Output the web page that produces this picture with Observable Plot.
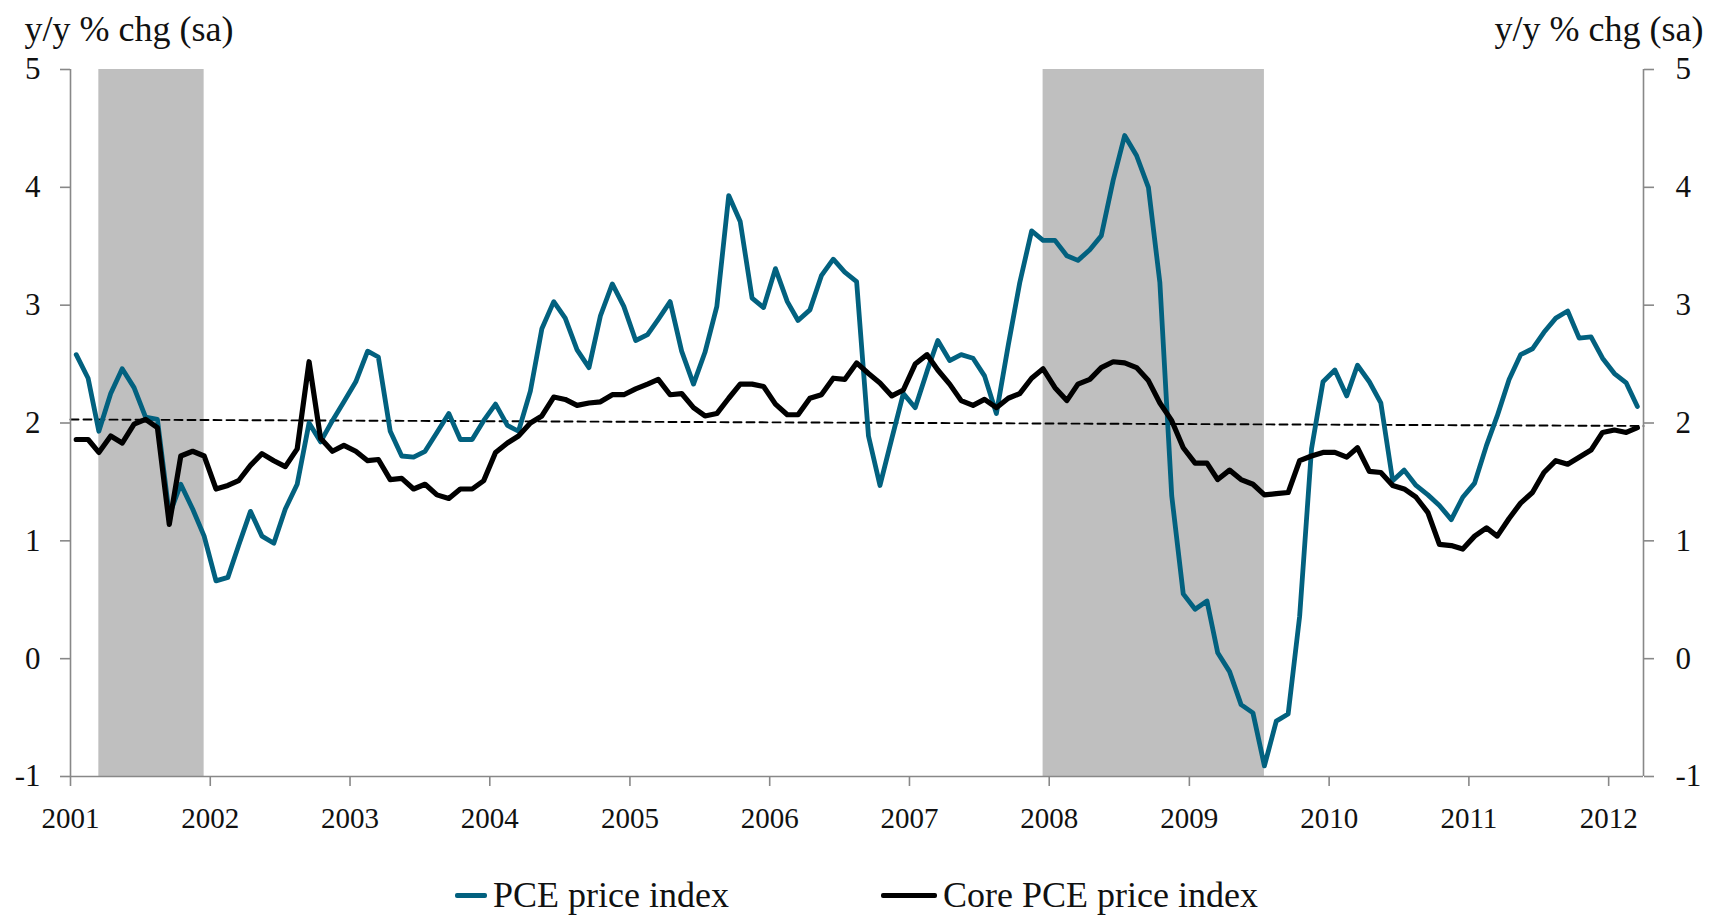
<!DOCTYPE html>
<html>
<head>
<meta charset="utf-8">
<script src="https://cdn.jsdelivr.net/npm/d3@7"></script>
<script src="https://cdn.jsdelivr.net/npm/@observablehq/plot@0.6"></script>
<style>
  html, body { margin: 0; padding: 0; background: #fff; }
  #wrap { position: relative; width: 1721px; height: 918px; font-family: "Liberation Serif", serif; color: #111; }
  .legend-item { position: absolute; top: 874px; display: flex; align-items: center; font-size: 36px; white-space: nowrap; }
  .sw { display: inline-block; height: 5px; margin-right: 6px; border-radius: 2px; }
</style>
</head>
<body>
<div id="wrap"></div>
<script>
// ---- data (monthly, Jan 2001 .. Mar 2012), y/y % chg ----
const firstMonth = "2001-01";
const pce = [
  2.58, 2.38, 1.93, 2.25, 2.46, 2.30, 2.05, 2.03, 1.22, 1.48, 1.27, 1.04,
  0.66, 0.69, 0.96, 1.25, 1.04, 0.98, 1.27, 1.48, 2.00, 1.84, 2.02, 2.18,
  2.35, 2.61, 2.56, 1.93, 1.72, 1.71, 1.76, 1.92, 2.08, 1.86, 1.86, 2.02,
  2.16, 1.98, 1.93, 2.27, 2.80, 3.03, 2.89, 2.62, 2.47, 2.91, 3.18, 2.99,
  2.70, 2.75, 2.88, 3.03, 2.61, 2.33, 2.60, 2.99, 3.93, 3.71, 3.06, 2.98,
  3.31, 3.03, 2.87, 2.96, 3.25, 3.39, 3.28, 3.20, 1.89, 1.47, 1.87, 2.25,
  2.13, 2.44, 2.70, 2.53, 2.58, 2.55, 2.40, 2.08, 2.66, 3.19, 3.63, 3.55,
  3.55, 3.42, 3.38, 3.47, 3.59, 4.06, 4.44, 4.27, 4.00, 3.19, 1.38, 0.55,
  0.42, 0.49, 0.05, -0.11, -0.39, -0.46, -0.91, -0.53, -0.47, 0.36, 1.78, 2.35,
  2.45, 2.23, 2.49, 2.35, 2.17, 1.51, 1.60, 1.47, 1.39, 1.30, 1.18, 1.37,
  1.49, 1.81, 2.06, 2.37, 2.58, 2.63, 2.77, 2.89, 2.95, 2.72, 2.73, 2.55,
  2.42, 2.34, 2.14
];
const corePce = [
  1.86, 1.86, 1.75, 1.89, 1.83, 1.99, 2.03, 1.96, 1.14, 1.72, 1.76, 1.72,
  1.44, 1.47, 1.51, 1.64, 1.74, 1.68, 1.63, 1.78, 2.52, 1.87, 1.76, 1.81,
  1.76, 1.68, 1.69, 1.52, 1.53, 1.44, 1.48, 1.39, 1.36, 1.44, 1.44, 1.51,
  1.75, 1.83, 1.89, 2.00, 2.06, 2.22, 2.20, 2.15, 2.17, 2.18, 2.24, 2.24,
  2.29, 2.33, 2.37, 2.24, 2.25, 2.13, 2.06, 2.08, 2.21, 2.33, 2.33, 2.31,
  2.16, 2.07, 2.07, 2.21, 2.24, 2.38, 2.37, 2.51, 2.42, 2.34, 2.23, 2.28,
  2.50, 2.58, 2.45, 2.33, 2.19, 2.15, 2.20, 2.13, 2.21, 2.25, 2.38, 2.46,
  2.30, 2.19, 2.33, 2.37, 2.47, 2.52, 2.51, 2.47, 2.36, 2.17, 2.02, 1.79,
  1.66, 1.66, 1.52, 1.60, 1.52, 1.48, 1.39, 1.40, 1.41, 1.68, 1.72, 1.75,
  1.75, 1.71, 1.79, 1.59, 1.58, 1.47, 1.44, 1.37, 1.24, 0.97, 0.96, 0.93,
  1.04, 1.11, 1.04, 1.19, 1.32, 1.41, 1.58, 1.68, 1.65, 1.71, 1.77, 1.92,
  1.94, 1.92, 1.96
];
const recessionStarts = ["2001-03", "2007-12"];
const recessionEnds   = ["2001-12", "2009-07"];
const trendDates  = ["2001-01-01", "2012-04-01"];
const trendValues = [2.03, 1.975];
const yTicks = [-1, 0, 1, 2, 3, 4, 5];
const xTickYears = ["2001","2002","2003","2004","2005","2006","2007","2008","2009","2010","2011","2012"];
const xDomain = ["2001-01-01", "2012-04-01"];
const seriesNames = ["PCE price index", "Core PCE price index"];
const axisTitle = "y/y % chg (sa)";

// ---- build ----
const parseMonth = d3.utcParse("%Y-%m");
const parseDay = d3.utcParse("%Y-%m-%d");
const midMonth = m => d3.utcDay.offset(m, 15);
const start = parseMonth(firstMonth);
const rows = pce.map((v, i) => ({ date: midMonth(d3.utcMonth.offset(start, i)), pce: v, core: corePce[i] }));
const recessions = recessionStarts.map((s, i) => ({ x1: midMonth(parseMonth(s)), x2: midMonth(parseMonth(recessionEnds[i])) }));
const trend = trendDates.map((d, i) => ({ date: parseDay(d), value: trendValues[i] }));
const domain = xDomain.map(parseDay);
const yearTicks = xTickYears.map(y => d3.utcParse("%Y")(y));

const TEAL = "#02617f";
const AXIS = "#888888";

const chart = Plot.plot({
  width: 1721,
  height: 850,
  marginLeft: 70,
  marginRight: 78,
  marginTop: 69,
  marginBottom: 74,
  style: { fontFamily: "Liberation Serif, serif", fontSize: "30px", color: "#111", background: "#fff" },
  x: { type: "utc", domain },
  y: { domain: [yTicks[0], yTicks[yTicks.length - 1]] },
  marks: [
    Plot.rect(recessions, { x1: "x1", x2: "x2", fill: "#bfbfbf" }),
    Plot.line(trend, { x: "date", y: "value", stroke: "#000", strokeWidth: 1.9, strokeDasharray: "8,5" }),
    Plot.line(rows, { x: "date", y: "pce", stroke: TEAL, strokeWidth: 4.8, strokeLinejoin: "round" }),
    Plot.line(rows, { x: "date", y: "core", stroke: "#000", strokeWidth: 5.2, strokeLinejoin: "round" }),
    Plot.ruleX(domain, { stroke: AXIS, strokeWidth: 1.6 }),
    Plot.ruleY([yTicks[0]], { stroke: AXIS, strokeWidth: 1.6 }),
    Plot.axisY({ anchor: "left", ticks: yTicks, tickSize: 10, tickPadding: 20, stroke: AXIS, strokeWidth: 1.6, fill: "#111", fontSize: 31, label: null, tickFormat: d => d }),
    Plot.axisY({ anchor: "right", ticks: yTicks, tickSize: 10, tickPadding: 22, stroke: AXIS, strokeWidth: 1.6, fill: "#111", fontSize: 31, label: null, tickFormat: d => d }),
    Plot.axisX({ ticks: yearTicks, tickFormat: d3.utcFormat("%Y"), tickSize: 10, tickPadding: 21, stroke: AXIS, strokeWidth: 1.6, fill: "#111", fontSize: 29, label: null }),
    Plot.text([axisTitle], { frameAnchor: "top-left", textAnchor: "start", lineAnchor: "middle", dx: -46, dy: -40, fontSize: 36, fill: "#111" }),
    Plot.text([axisTitle], { frameAnchor: "top-right", textAnchor: "end", lineAnchor: "middle", dx: 60, dy: -40, fontSize: 36, fill: "#111" })
  ]
});

const wrap = document.getElementById("wrap");
wrap.appendChild(chart);

// legend
const legendSpecs = [
  { name: seriesNames[0], color: TEAL, left: 455, sw: 32 },
  { name: seriesNames[1], color: "#000", left: 881, sw: 56 }
];
legendSpecs.forEach(s => {
  const item = document.createElement("div");
  item.className = "legend-item";
  item.style.left = s.left + "px";
  const sw = document.createElement("span");
  sw.className = "sw";
  sw.style.width = s.sw + "px";
  sw.style.background = s.color;
  const t = document.createElement("span");
  t.textContent = s.name;
  item.appendChild(sw);
  item.appendChild(t);
  wrap.appendChild(item);
});
</script>
</body>
</html>
